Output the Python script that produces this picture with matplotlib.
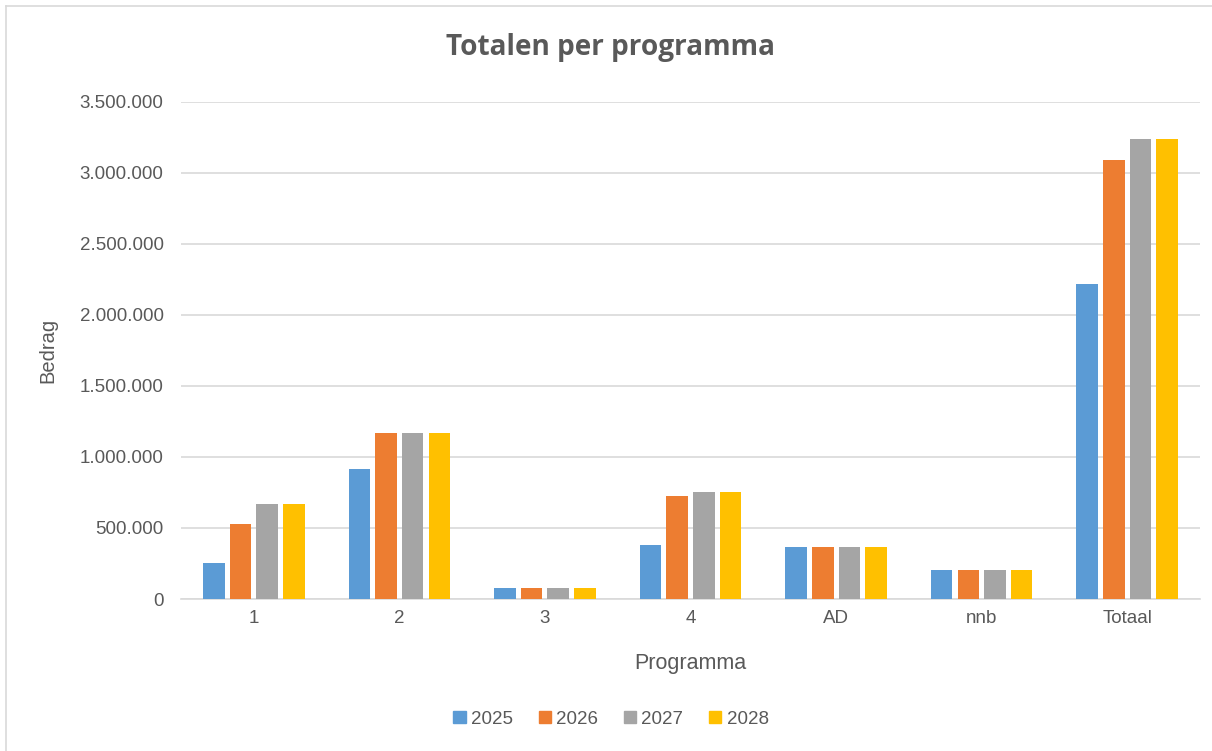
import matplotlib
matplotlib.use("Agg")
import matplotlib.pyplot as plt
import numpy as np
from matplotlib.ticker import FuncFormatter
from matplotlib.lines import Line2D

categories = ["1", "2", "3", "4", "AD", "nnb", "Totaal"]
years = ["2025", "2026", "2027", "2028"]
v2025 = [255000, 915000, 78000, 378000, 368000, 203000, 2213000]
v2026 = [528000, 1167000, 78000, 728000, 368000, 203000, 3090000]
v2027 = [665000, 1167000, 78000, 752000, 368000, 203000, 3239000]
v2028 = [665000, 1167000, 78000, 752000, 368000, 203000, 3239000]
series = [v2025, v2026, v2027, v2028]
colors = ["#5B9BD5", "#ED7D31", "#A5A5A5", "#FFC000"]

TXT = "#595959"
plt.rcParams['font.family'] = ['Liberation Sans', 'DejaVu Sans']

fig = plt.figure(figsize=(12.12, 7.51), dpi=100)
ax = fig.add_axes([181/1212, 1-599/751, (1200-181)/1212, (599-101.5)/751])

x = np.arange(len(categories))
pitch = 0.183
width = 0.148
for i, (vals, c, yr) in enumerate(zip(series, colors, years)):
    ax.bar(x + (i - 1.5) * pitch, vals, width=width, color=c, label=yr, zorder=3)

ax.set_xlim(-0.5, len(categories) - 0.5)
ax.set_ylim(0, 3500000)
ax.set_yticks(np.arange(0, 3500001, 500000))
ax.yaxis.set_major_formatter(FuncFormatter(lambda v, p: f"{int(v):,}".replace(",", ".")))
ax.set_xticks(x)
ax.set_xticklabels(categories)
ax.grid(axis='y', color='#D9D9D9', linewidth=1.2, zorder=0)
for s in ['top', 'right', 'left']:
    ax.spines[s].set_visible(False)
ax.spines['bottom'].set_color('#D9D9D9')
ax.spines['bottom'].set_linewidth(1.2)
ax.tick_params(axis='both', length=0, colors=TXT, labelsize=13.5)
ax.tick_params(axis='y', pad=12.5)
ax.tick_params(axis='x', pad=8)

fig.text(48/1212, 1-350/751, "Bedrag", rotation=90, ha='center', va='center', color=TXT, fontsize=14.5)
fig.text(690/1212, 1-663/751, "Programma", ha='center', va='center', color=TXT, fontsize=15.5)
fig.text(611/1212, 1-47/751, "Totalen per programma", ha='center', va='center', color=TXT,
         fontsize=20.2, fontweight='bold', family=['Open Sans', 'DejaVu Sans'])

handles = [plt.Rectangle((0, 0), 1, 1, color=c) for c in colors]
leg = fig.legend(handles, years, loc='center', bbox_to_anchor=(611/1212, 1-719/751), ncol=4,
                 frameon=False, fontsize=13.5, handlelength=0.65, handleheight=0.65,
                 handletextpad=0.3, columnspacing=1.35, labelcolor=TXT)

fig.add_artist(Line2D([6/1212, 1], [1-6/751, 1-6/751], color='#D9D9D9', linewidth=1.2))
fig.add_artist(Line2D([6/1212, 6/1212], [0, 1-6/751], color='#D9D9D9', linewidth=1.2))

fig.savefig("out.png", dpi=100, facecolor='white')
